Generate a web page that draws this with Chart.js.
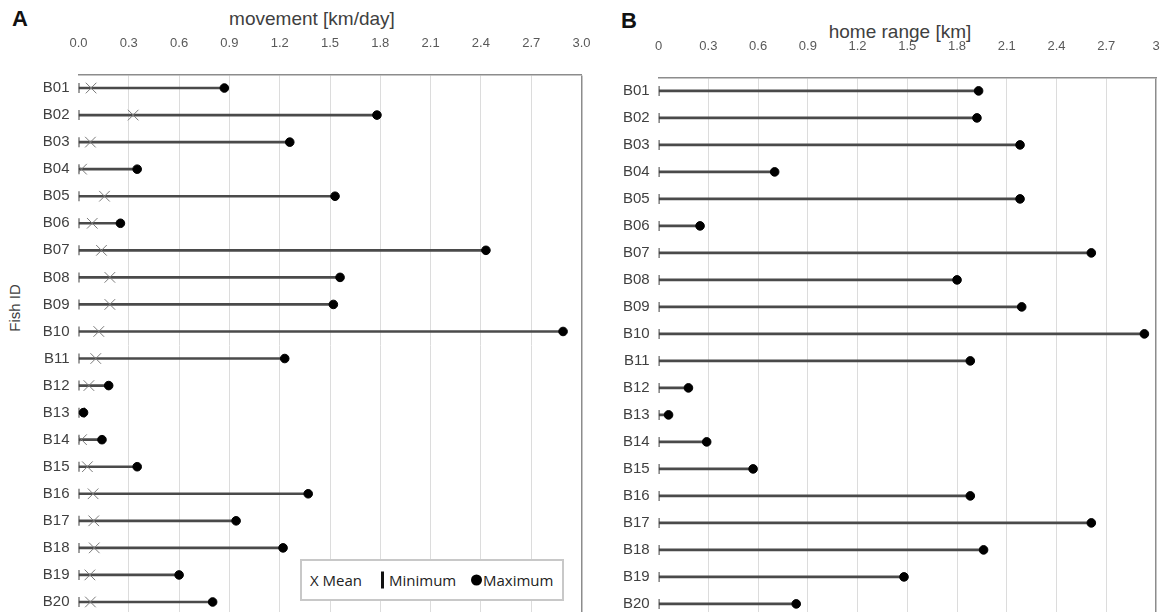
<!DOCTYPE html>
<html lang="en">
<head>
  <meta charset="UTF-8" />
  <title>Fish movement and home range</title>
  <script src="https://cdn.jsdelivr.net/npm/chart.js@4.4.0/dist/chart.umd.min.js"></script>
  <style>
    html, body { margin: 0; padding: 0; background: #fff; overflow: hidden; }
    body { width: 1163px; height: 612px; position: relative; font-family: "Liberation Sans", Arial, sans-serif; }
    canvas { position: absolute; top: 0; }
    #chartA { left: 0; }
    #chartB { left: 590px; }
    .panel-letter { position: absolute; font-weight: bold; font-size: 22px; color: #111; line-height: 1; }
    .axis-title {
      position: absolute; font-size: 19px; color: #404040; white-space: nowrap;
      transform: translate(-50%, -50%); line-height: 1;
    }
    #fishLabel {
      position: absolute; left: 14px; top: 308px; font-size: 15px; color: #404040;
      white-space: nowrap; transform: translate(-50%, -50%) rotate(-90deg);
    }
    #legendBox {
      position: absolute; left: 300px; top: 559px; width: 264px; height: 42px; box-sizing: border-box;
      border: 2px solid #c8c8c8; background: #fff;
      font-family: "Open Sans", sans-serif; font-size: 15px; color: #222;
    }
    #legendBox span { position: absolute; white-space: nowrap; top: 50%; transform: translateY(-50%); line-height: 1; }
    .lg-bar { width: 3px; height: 17px; background: #111; }
    .lg-dot { width: 11px; height: 11px; border-radius: 50%; background: #000; }
  </style>
</head>
<body>
  <div class="panel-letter" style="left:12px; top:8px;">A</div>
  <div class="panel-letter" style="left:621px; top:10px;">B</div>
  <div class="axis-title" style="left:312px; top:18px;">movement [km/day]</div>
  <div class="axis-title" style="left:900px; top:31px;">home range [km]</div>
  <div id="fishLabel">Fish ID</div>

  <canvas id="chartA" width="590" height="640"></canvas>
  <canvas id="chartB" width="573" height="640"></canvas>

  <div id="legendBox">
    <span style="left:8px;">X Mean</span>
    <span class="lg-bar" style="left:79px;"></span><span style="left:87px;">Minimum</span>
    <span class="lg-dot" style="left:169px;"></span><span style="left:181px;">Maximum</span>
  </div>

  <script>
    // categories
    const fishIds = ['B01','B02','B03','B04','B05','B06','B07','B08','B09','B10',
                     'B11','B12','B13','B14','B15','B16','B17','B18','B19','B20'];

    // A: movement [km/day]
    const moveMin  = [0,0,0,0,0,0,0,0,0,0, 0,0,0,0,0,0,0,0,0,0];
    const moveMean = [0.075,0.326,0.071,0.018,0.155,0.082,0.137,0.187,0.187,0.121,
                      0.103,0.062,0.005,0.018,0.053,0.087,0.091,0.094,0.068,0.071];
    const moveMax  = [0.87,1.78,1.26,0.35,1.53,0.25,2.43,1.56,1.52,2.89,
                      1.23,0.18,0.03,0.14,0.35,1.37,0.94,1.22,0.60,0.80];

    // B: home range [km]
    const rangeMin = [0,0,0,0,0,0,0,0,0,0, 0,0,0,0,0,0,0,0,0,0];
    const rangeMax = [1.93,1.92,2.18,0.70,2.18,0.25,2.61,1.80,2.19,2.93,
                      1.88,0.18,0.06,0.29,0.57,1.88,2.61,1.96,1.48,0.83];

    // tick labels
    const tickValues  = [0,0.3,0.6,0.9,1.2,1.5,1.8,2.1,2.4,2.7,3.0];
    const tickLabelsA = ['0.0','0.3','0.6','0.9','1.2','1.5','1.8','2.1','2.4','2.7','3.0'];
    const tickLabelsB = ['0','0.3','0.6','0.9','1.2','1.5','1.8','2.1','2.4','2.7','3'];

    function rangeBars(mins, maxs) {
      return mins.map((m, i) => [m, maxs[i]]);
    }

    function buildOptions(cfg) {
      return {
        responsive: false,
        animation: false,
        indexAxis: 'y',
        layout: { padding: { left: 0, top: 0, right: cfg.right, bottom: cfg.bottom } },
        plugins: { legend: { display: false }, tooltip: { enabled: false } },
        scales: {
          x: {
            type: 'linear', position: 'top', min: 0, max: 3,
            afterBuildTicks: s => { s.ticks = tickValues.map(v => ({ value: v })); },
            afterFit: s => { s.height = cfg.top; s.paddingLeft = 0; s.paddingRight = 0; },
            ticks: {
              callback: (v, i) => cfg.tickLabels[i],
              color: '#595959', font: { size: 13 }, padding: cfg.tickPad,
              maxRotation: 0, autoSkip: false
            },
            grid: {
              drawTicks: false,
              color: c => c.index === 0 ? 'rgba(0,0,0,0)' : (c.index === 10 ? '#8c8c8c' : '#dcdcdc'),
              lineWidth: c => c.index === 10 ? 1.5 : 1
            },
            border: { display: true, color: '#8c8c8c', width: 1.5 }
          },
          y: {
            type: 'category', offset: true,
            afterFit: s => { s.width = cfg.left; },
            ticks: { color: '#404040', font: { size: 15 }, padding: 9 },
            grid: { display: false, drawTicks: false },
            border: { display: false }
          }
        }
      };
    }

    Chart.defaults.font.family = '"Liberation Sans", Arial, sans-serif';

    new Chart(document.getElementById('chartA'), {
      type: 'bar',
      data: {
        labels: fishIds,
        datasets: [
          { type: 'line', label: 'Maximum', data: moveMax, showLine: false, order: 1,
            pointStyle: 'circle', pointRadius: 4.3, pointBackgroundColor: '#000', pointBorderColor: '#000', pointBorderWidth: 1 },
          { type: 'line', label: 'Mean', data: moveMean, showLine: false, order: 2,
            pointStyle: 'crossRot', pointRadius: 7.5, pointBorderColor: '#7a7a7a', pointBorderWidth: 1 },
          { type: 'line', label: 'Minimum', data: moveMin, showLine: false, order: 3,
            pointStyle: 'line', pointRotation: 90, pointRadius: 5, pointBorderColor: '#404040', pointBorderWidth: 2 },
          { type: 'bar', label: 'range', data: rangeBars(moveMin, moveMax), order: 10,
            backgroundColor: '#4a4a4a', barThickness: 2, borderWidth: 0 }
        ]
      },
      options: buildOptions({
        tickLabels: tickLabelsA,
        top: 74.5, left: 78.5, right: 7, bottom: 24.5, tickPad: 23
      })
    });

    new Chart(document.getElementById('chartB'), {
      type: 'bar',
      data: {
        labels: fishIds,
        datasets: [
          { type: 'line', label: 'Maximum', data: rangeMax, showLine: false, order: 1,
            pointStyle: 'circle', pointRadius: 4.3, pointBackgroundColor: '#000', pointBorderColor: '#000', pointBorderWidth: 1 },
          { type: 'line', label: 'Minimum', data: rangeMin, showLine: false, order: 3,
            pointStyle: 'line', pointRotation: 90, pointRadius: 5, pointBorderColor: '#404040', pointBorderWidth: 2 },
          { type: 'bar', label: 'range', data: rangeBars(rangeMin, rangeMax), order: 10,
            backgroundColor: '#4a4a4a', barThickness: 2, borderWidth: 0 }
        ]
      },
      options: buildOptions({
        tickLabels: tickLabelsB,
        top: 77.4, left: 68.6, right: 4.4, bottom: 22.6, tickPad: 23.5
      })
    });
  </script>
</body>
</html>
